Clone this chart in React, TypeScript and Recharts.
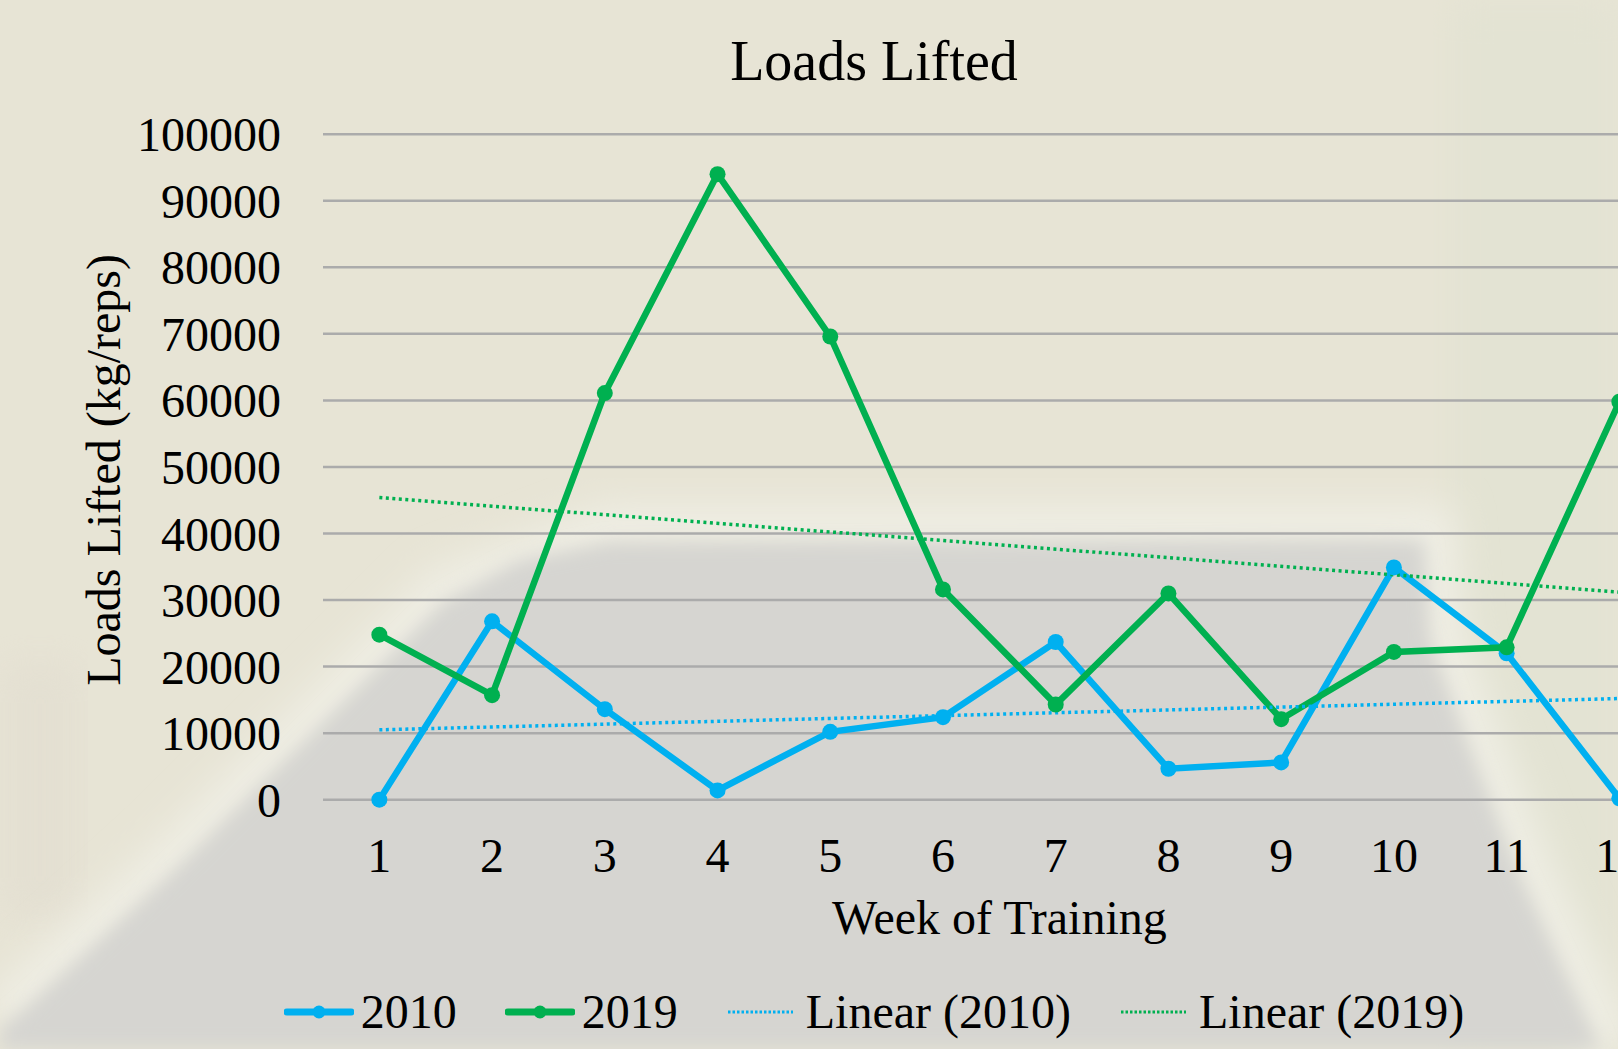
import React from "react"
import { LineChart, Line, XAxis, YAxis, CartesianGrid, Legend } from "recharts"

// weekly training loads (kg x reps)
const weeks = ["1", "2", "3", "4", "5", "6", "7", "8", "9", "10", "11", "12"]
const loads2010 = [0, 26800, 13600, 1400, 10200, 12400, 23700, 4650, 5600, 34900, 22000, 200]
const loads2019 = [24800, 15700, 61100, 94000, 69600, 31600, 14300, 31000, 12100, 22200, 22900, 59800]
// trend line end points (week 1 and week 12)
const trend2010 = [10500, null, null, null, null, null, null, null, null, null, null, 15200]
const trend2019 = [45400, null, null, null, null, null, null, null, null, null, null, 31200]
const yTicks = [0, 10000, 20000, 30000, 40000, 50000, 60000, 70000, 80000, 90000, 100000]

const SERIF = '"Liberation Serif", "Times New Roman", serif'
const BLUE = "#00b0f0"
const GREEN = "#00b050"

const data = weeks.map((week, i) => ({
  week,
  y2010: loads2010[i],
  y2019: loads2019[i],
  t2010: trend2010[i],
  t2019: trend2019[i],
}))

const YTitle = (props: any) => {
  const vb = props.viewBox ?? { x: 0, y: 0, height: 0 }
  const bx = vb.x + 120
  const cy = vb.y + vb.height / 2 + 3
  return (
    <text
      transform={`translate(${bx}, ${cy}) rotate(-90)`}
      textAnchor="middle"
      fontFamily={SERIF}
      fontSize={48}
      fill="#000"
    >
      Loads Lifted (kg/reps)
    </text>
  )
}

const XTitle = (props: any) => {
  const vb = props.viewBox ?? { x: 0, y: 0, width: 0 }
  return (
    <text
      x={vb.x + vb.width / 2}
      y={vb.y + 134.3}
      textAnchor="middle"
      fontFamily={SERIF}
      fontSize={48}
      fill="#000"
    >
      Week of Training
    </text>
  )
}

const LegendContent = ({ payload }: any) => (
  <div
    style={{
      display: "flex",
      justifyContent: "center",
      alignItems: "center",
      fontFamily: SERIF,
      fontSize: 48,
      lineHeight: "54px",
      color: "#000",
    }}
  >
    {(payload ?? []).map((entry: any, i: number) => {
      const dashed = !!entry.payload?.strokeDasharray
      return (
        <div
          key={entry.value}
          style={{ display: "flex", alignItems: "center", marginLeft: i ? 48 : 0 }}
        >
          <svg width={70} height={20} style={{ marginRight: dashed ? 10 : 7 }}>
            {dashed ? (
              <line x1={2} x2={67} y1={10} y2={10} stroke={entry.color} strokeWidth={3} strokeDasharray="2.5 2" />
            ) : (
              <>
                <line x1={3} x2={67} y1={10} y2={10} stroke={entry.color} strokeWidth={7} strokeLinecap="round" />
                <circle cx={35} cy={10} r={6.5} fill={entry.color} />
              </>
            )}
          </svg>
          <span>{entry.value}</span>
        </div>
      )
    })}
  </div>
)

// soft photo-like backdrop behind the chart
function Backdrop() {
  return (
    <svg width={1618} height={1049} style={{ position: "absolute", left: 0, top: 0 }}>
      <defs>
        <filter id="soft" x="-10%" y="-10%" width="120%" height="120%">
          <feGaussianBlur stdDeviation="9" />
        </filter>
        <filter id="softer" x="-10%" y="-10%" width="120%" height="120%">
          <feGaussianBlur stdDeviation="18" />
        </filter>
      </defs>
      <rect width={1618} height={1049} fill="#e7e4d5" />
      <rect x={1450} y={0} width={168} height={1049} fill="#e3e3d3" filter="url(#softer)" />
      <rect x={0} y={660} width={80} height={260} fill="#e2ddd0" filter="url(#softer)" opacity={0.6} />
      <polyline
        points="0,1020 175,860 310,726 444,592 609,530 1430,530 1440,640 1475,736 1527,870 1590,1003 1612,1049"
        fill="none"
        stroke="#efeee4"
        strokeWidth={50}
        filter="url(#softer)"
      />
      <polygon
        points="609,542 1424,540 1430,640 1465,736 1517,870 1579,1003 1600,1049 0,1049 0,1030 31,1003 175,870 310,736 444,602 520,560"
        fill="#d6d5d1"
        filter="url(#soft)"
      />
    </svg>
  )
}

export default function App() {
  return (
    <div
      style={{
        position: "absolute",
        left: 0,
        top: 0,
        width: 1618,
        height: 1049,
        overflow: "hidden",
      }}
    >
      <Backdrop />
      <div
        style={{
          position: "absolute",
          left: 0,
          top: 33,
          width: 1748,
          textAlign: "center",
          fontFamily: SERIF,
          fontSize: 56,
          lineHeight: "56px",
          color: "#000",
        }}
      >
        Loads Lifted
      </div>
      <div style={{ position: "absolute", left: 0, top: 0 }}>
        <LineChart
          width={1700}
          height={1049}
          data={data}
          margin={{ top: 134.2, right: 24.3, bottom: 89.3, left: 0 }}
        >
          <CartesianGrid vertical={false} stroke="#ababab" strokeWidth={2.5} />
          <XAxis
            dataKey="week"
            height={160}
            padding={{ left: 56.35, right: 56.35 }}
            axisLine={false}
            tickLine={false}
            tickSize={0}
            tickMargin={38}
            interval={0}
            tick={{ fontFamily: SERIF, fontSize: 48, fill: "#000" }}
            label={<XTitle />}
          />
          <YAxis
            width={323}
            domain={[0, 100000]}
            ticks={yTicks}
            axisLine={false}
            tickLine={false}
            tickSize={0}
            tickMargin={42}
            tick={{ fontFamily: SERIF, fontSize: 48, fill: "#000" }}
            label={<YTitle />}
          />
          <Legend
            layout="horizontal"
            verticalAlign="middle"
            align="center"
            content={<LegendContent />}
            wrapperStyle={{ left: 0, top: 984.7, width: 1748 }}
          />
          <Line
            name="2010"
            dataKey="y2010"
            stroke={BLUE}
            strokeWidth={6.5}
            dot={{ r: 8, fill: BLUE, stroke: BLUE, strokeWidth: 0 }}
            activeDot={false}
            isAnimationActive={false}
          />
          <Line
            name="2019"
            dataKey="y2019"
            stroke={GREEN}
            strokeWidth={6.5}
            dot={{ r: 8, fill: GREEN, stroke: GREEN, strokeWidth: 0 }}
            activeDot={false}
            isAnimationActive={false}
          />
          <Line
            name="Linear (2010)"
            dataKey="t2010"
            stroke={BLUE}
            strokeWidth={3.5}
            strokeDasharray="3 3.5"
            dot={false}
            activeDot={false}
            connectNulls
            isAnimationActive={false}
          />
          <Line
            name="Linear (2019)"
            dataKey="t2019"
            stroke={GREEN}
            strokeWidth={3.5}
            strokeDasharray="3 3.5"
            dot={false}
            activeDot={false}
            connectNulls
            isAnimationActive={false}
          />
        </LineChart>
      </div>
    </div>
  )
}
